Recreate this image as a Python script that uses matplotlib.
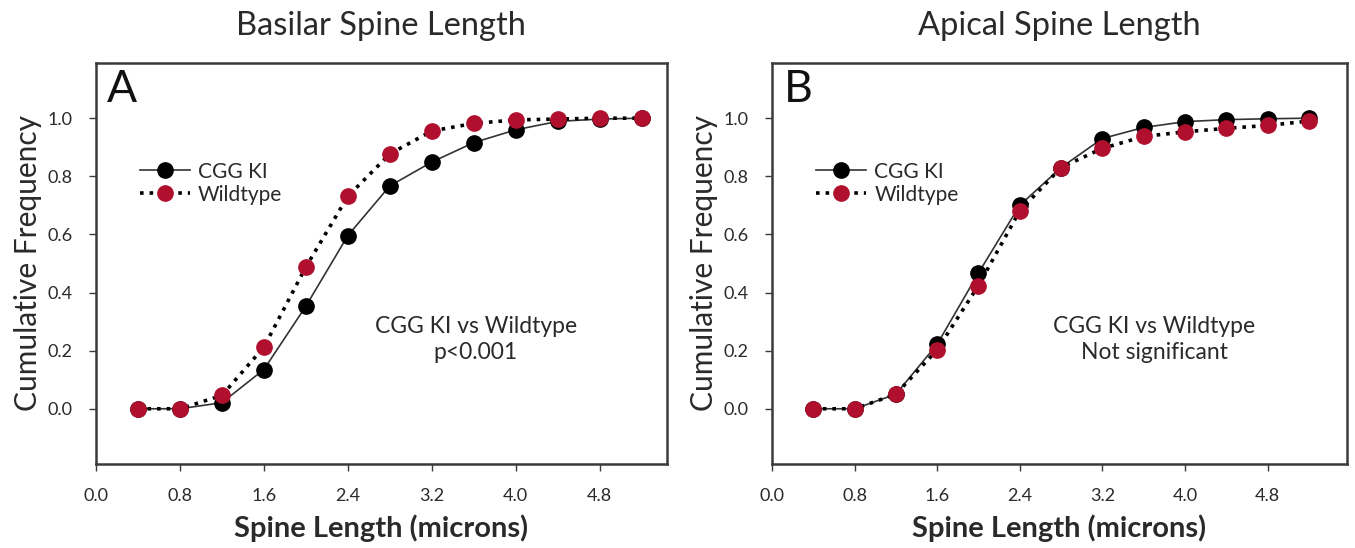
import matplotlib
matplotlib.use("Agg")
import matplotlib.pyplot as plt

plt.rcParams['font.family'] = ['Lato', 'DejaVu Sans']

spine_length = [0.4, 0.8, 1.2, 1.6, 2.0, 2.4, 2.8, 3.2, 3.6, 4.0, 4.4, 4.8, 5.2]

basilar_cgg = [0.0, 0.0, 0.021, 0.135, 0.353, 0.596, 0.767, 0.849, 0.916, 0.96, 0.989, 0.997, 1.0]
basilar_wt = [0.0, 0.0, 0.046, 0.212, 0.488, 0.731, 0.877, 0.956, 0.982, 0.994, 0.997, 1.0, 1.0]

apical_cgg = [0.0, 0.0, 0.05, 0.222, 0.467, 0.70, 0.83, 0.93, 0.968, 0.988, 0.995, 0.998, 1.0]
apical_wt = [0.0, 0.0, 0.05, 0.203, 0.424, 0.681, 0.83, 0.896, 0.937, 0.953, 0.965, 0.975, 0.99]

x_ticks = [0.0, 0.8, 1.6, 2.4, 3.2, 4.0, 4.8]
y_ticks = [0.0, 0.2, 0.4, 0.6, 0.8, 1.0]

RED = '#b0102e'
FRAME = '#3a3a3a'
TEXT = '#2a2a2a'


def draw_panel(ax, cgg, wt, letter, title, note, xmax):
    ax.plot(spine_length, cgg, '-', color='#333333', lw=1.2,
            marker='o', ms=11, mfc='black', mec='black', label='CGG KI')
    ax.plot(spine_length, wt, ':', color='black', lw=2.6,
            marker='o', ms=11, mfc=RED, mec=RED, label='Wildtype')
    ax.set_xlim(0, xmax)
    ax.set_ylim(-0.19, 1.19)
    ax.set_xticks(x_ticks)
    ax.set_xticklabels([f"{t:.1f}" for t in x_ticks])
    ax.set_yticks(y_ticks)
    ax.set_yticklabels([f"{t:.1f}" for t in y_ticks])
    ax.tick_params(direction='out', length=5, width=1, colors=FRAME,
                   labelcolor=TEXT, labelsize=13, pad=12)
    for s in ax.spines.values():
        s.set_linewidth(1.8)
        s.set_color(FRAME)
    ax.set_xlabel('Spine Length (microns)', fontsize=21, color=TEXT,
                  fontweight='bold', labelpad=8)
    ax.set_ylabel('Cumulative Frequency', fontsize=21.5, color=TEXT,
                  labelpad=4)
    ax.set_title(title, fontsize=23.5, color=TEXT, pad=20)
    ax.text(0.02, 0.985, letter, transform=ax.transAxes, fontsize=32,
            va='top', ha='left', color='#111111')
    leg = ax.legend(loc='upper left', bbox_to_anchor=(0.062, 0.775),
                    frameon=False, fontsize=15, handlelength=2.4,
                    handletextpad=0.4, labelspacing=0.15, borderaxespad=0)
    for t in leg.get_texts():
        t.set_color(TEXT)
    ax.text(0.665, 0.31, note, transform=ax.transAxes, fontsize=16.5,
            ha='center', va='center', color=TEXT, linespacing=1.3)


fig = plt.figure(figsize=(13.55, 5.48), dpi=100)
ax_a = fig.add_axes([0.0708, 0.1533, 0.4214, 0.7318])
ax_b = fig.add_axes([0.5697, 0.1533, 0.4244, 0.7318])

draw_panel(ax_a, basilar_cgg, basilar_wt, 'A', 'Basilar Spine Length',
           'CGG KI vs Wildtype\np<0.001', 5.44)
draw_panel(ax_b, apical_cgg, apical_wt, 'B', 'Apical Spine Length',
           'CGG KI vs Wildtype\nNot significant', 5.57)

fig.savefig('out.png', dpi=100)
